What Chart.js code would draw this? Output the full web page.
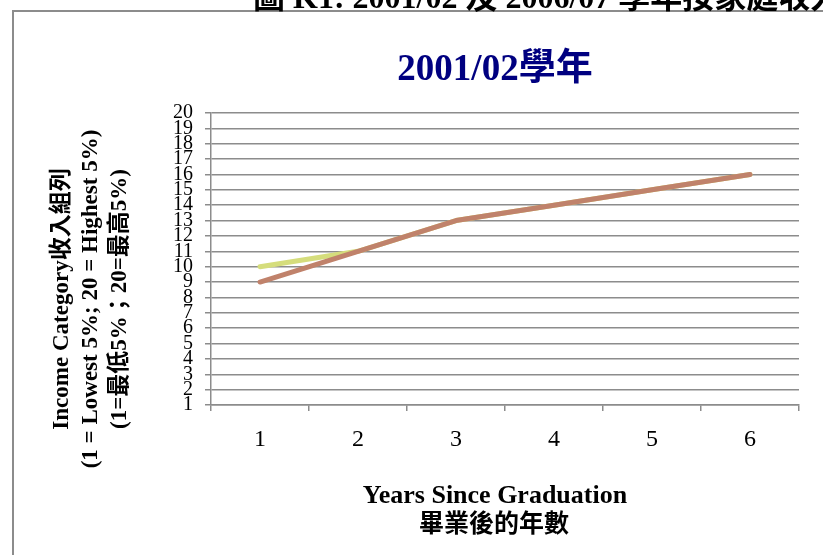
<!DOCTYPE html>
<html>
<head>
<meta charset="utf-8">
<title>2001/02學年</title>
<script src="https://cdn.jsdelivr.net/npm/chart.js"></script>
<style>
    html, body { margin: 0; padding: 0; background: #ffffff; overflow: hidden; }
    #myChart { display: block; }
</style>
</head>
<body>
<canvas id="myChart" width="823" height="555"></canvas>
<script>
"use strict"

// Chart data
const yearsSinceGraduation = ["1", "2", "3", "4", "5", "6"];
const lowerGroupValues = [9, 11, 13, 14, 15, 16];
const upperGroupValues = [10, 11, 13, 14, 15, 16];
const incomeTickLabels = ["1", "2", "3", "4", "5", "6", "7", "8", "9", "10",
    "11", "12", "13", "14", "15", "16", "17", "18", "19", "20"];

const pageHeading = "圖 K1: 2001/02 及 2006/07 學年按家庭收入組別劃分的畢業生收入";
const chartTitle = "2001/02學年";
const xAxisTitle = ["Years Since Graduation", "畢業後的年數"];
const yAxisTitle = [
    "Income Category收入組列",
    "(1 = Lowest 5%; 20 = Highest 5%)",
    "(1=最低5%；20=最高5%)"
];

(function CreateNewChart() {
    // HTML elements
    const ctx = document.getElementById('myChart');

    const serif = "'Liberation Serif', 'Times New Roman', 'Noto Sans CJK TC', serif";
    const gridGrey = "#8c8c8c";

    // Frame, page heading and the titles are drawn straight on the canvas
    const frameAndTitles = {
        id: 'frameAndTitles',
        afterDraw(chart) {
            const { ctx } = chart;
            ctx.save();

            // Outer frame (only the left and top edges are inside the window)
            ctx.strokeStyle = gridGrey;
            ctx.lineWidth = 2;
            ctx.beginPath();
            ctx.moveTo(13, 600);
            ctx.lineTo(13, 11);
            ctx.lineTo(900, 11);
            ctx.stroke();

            // Page heading, cut off by the top of the window
            ctx.fillStyle = "#000000";
            ctx.font = "bold 32px " + serif;
            ctx.textAlign = "left";
            ctx.textBaseline = "alphabetic";
            ctx.fillText(pageHeading, 253, 8);

            // Chart title
            ctx.fillStyle = "#000080";
            ctx.font = "bold 37px " + serif;
            ctx.textAlign = "center";
            ctx.textBaseline = "middle";
            ctx.fillText(chartTitle, 495, 70);

            // X axis title
            ctx.fillStyle = "#000000";
            ctx.font = "bold 26px " + serif;
            ctx.fillText(xAxisTitle[0], 495, 496);
            ctx.font = "bold 25px " + serif;
            ctx.fillText(xAxisTitle[1], 494, 526);

            // Y axis title, three rotated lines
            ctx.font = "bold 23px " + serif;
            const lineX = [62, 91, 120];
            for (let i = 0; i < yAxisTitle.length; i++) {
                ctx.save();
                ctx.translate(lineX[i], 299);
                ctx.rotate(-Math.PI / 2);
                ctx.fillText(yAxisTitle[i], 0, 0);
                ctx.restore();
            }

            ctx.restore();
        }
    };

    // Creating chart
    new Chart(ctx, {
        type: 'line',
        data: {
            labels: yearsSinceGraduation,
            datasets: [{
                label: "Series 2",
                data: lowerGroupValues,
                borderColor: "#c0826b",
                borderWidth: 5,
                borderCapStyle: "round",
                borderJoinStyle: "round",
                pointRadius: 0,
                tension: 0
            }, {
                label: "Series 1",
                data: upperGroupValues,
                borderColor: "#d5dd7c",
                borderWidth: 5,
                borderCapStyle: "round",
                borderJoinStyle: "round",
                pointRadius: 0,
                tension: 0
            }]
        },
        options: {
            responsive: false,
            animation: false,
            devicePixelRatio: 1,
            layout: {
                padding: { left: 0, top: 113, right: 24, bottom: 0 }
            },
            plugins: {
                legend: { display: false },
                tooltip: { enabled: false },
                title: { display: false }
            },
            scales: {
                x: {
                    offset: true,
                    afterFit(scale) { scale.height = 150; },
                    grid: {
                        offset: true,
                        drawOnChartArea: false,
                        drawTicks: true,
                        tickLength: 6,
                        color: gridGrey,
                        lineWidth: 1.5
                    },
                    border: { display: true, color: gridGrey, width: 1.5 },
                    ticks: {
                        color: "#000000",
                        padding: 14,
                        font: { family: serif, size: 24 }
                    }
                },
                y: {
                    min: 1,
                    max: 20,
                    afterFit(scale) { scale.width = 211; },
                    afterBuildTicks(scale) {
                        scale.ticks = incomeTickLabels.map(v => ({ value: Number(v) }));
                    },
                    grid: {
                        drawTicks: true,
                        tickLength: 6,
                        color: gridGrey,
                        lineWidth: 1.5
                    },
                    border: { display: true, color: gridGrey, width: 1.5 },
                    ticks: {
                        autoSkip: false,
                        color: "#000000",
                        padding: 12,
                        font: { family: serif, size: 20, lineHeight: 1 }
                    }
                }
            }
        },
        plugins: [
            frameAndTitles
        ]
    });
}())
</script>
</body>
</html>
